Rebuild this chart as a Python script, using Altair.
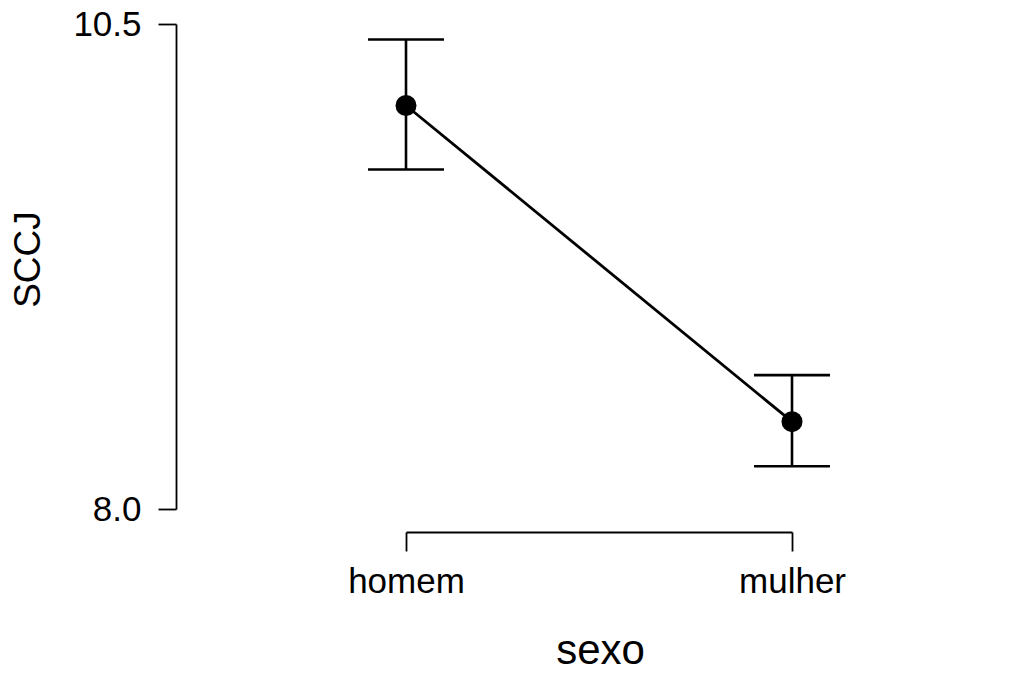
import altair as alt
import pandas as pd

sexo = ["homem", "mulher"]
mean = [10.08, 8.45]
lower = [9.75, 8.22]
upper = [10.42, 8.69]

df = pd.DataFrame({"sexo": sexo, "mean": mean, "lower": lower, "upper": upper})

FONT = "Liberation Sans"

x = alt.X(
    "sexo:N",
    scale=alt.Scale(type="point", range=[230, 616], padding=0),
    axis=alt.Axis(
        title="sexo", labelAngle=0, labelFontSize=35, labelColor="black",
        labelPadding=13, tickSize=19, tickColor="black", tickWidth=1.8,
        domainColor="black", domainWidth=1.8, offset=23, grid=False,
        titleFontSize=42, titleFontWeight="normal", titleColor="black",
        titleX=424, titleY=131, titleBaseline="alphabetic", titleAnchor="start",
        titleAlign="center", labelFont=FONT, titleFont=FONT,
    ),
)
yscale = alt.Scale(domain=[8.0, 10.5], nice=False, zero=False)
yaxis = alt.Axis(
    title="SCCJ", values=[8.0, 10.5], format=".1f", labelFontSize=35,
    labelColor="black", labelPadding=17, tickSize=18, tickColor="black",
    tickWidth=1.8, domainColor="black", domainWidth=1.8, grid=False,
    titleFontSize=37, titleFontWeight="normal", titleColor="black",
    titleX=-137, titleY=235, titleBaseline="alphabetic", titleAngle=270,
    titleAlign="center", labelFont=FONT, titleFont=FONT,
)

base = alt.Chart(df)

rules = base.mark_rule(color="black", strokeWidth=2.6).encode(
    x=x, y=alt.Y("lower:Q", scale=yscale, axis=yaxis), y2="upper:Q"
)
cap_lo = base.mark_tick(color="black", size=76, thickness=2.6, orient="horizontal", opacity=1).encode(
    x=x, y=alt.Y("lower:Q", scale=yscale)
)
cap_hi = base.mark_tick(color="black", size=76, thickness=2.6, orient="horizontal", opacity=1).encode(
    x=x, y=alt.Y("upper:Q", scale=yscale)
)
line = base.mark_line(color="black", strokeWidth=2.8).encode(
    x=x, y=alt.Y("mean:Q", scale=yscale)
)
points = base.mark_point(filled=True, color="black", size=440, opacity=1).encode(
    x=x, y=alt.Y("mean:Q", scale=yscale)
)

chart = (
    alt.layer(rules, cap_lo, cap_hi, line, points)
    .properties(
        width=830, height=485,
        autosize=alt.AutoSizeParams(type="none"),
        padding={"left": 168, "top": 16, "right": 10, "bottom": 165},
    )
    .configure(font=FONT)
    .configure_view(strokeWidth=0, stroke="transparent")
)

chart.save("out.html", embed_options={"renderer": "svg", "actions": False})
